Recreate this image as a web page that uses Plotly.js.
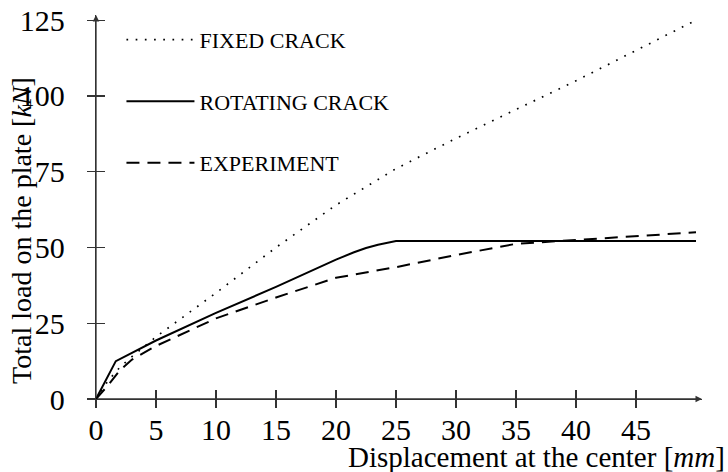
<!DOCTYPE html>
<html>
<head>
<meta charset="utf-8">
<script src="https://cdn.plot.ly/plotly-3.0.1.min.js"></script>
<style>html,body{margin:0;padding:0;background:#fff;}#chart{width:728px;height:472px;}</style>
</head>
<body>
<div id="chart"></div>
<script>
// Displacement at the center [mm] and total load [kN]
const fixedX = [0, 1, 2, 3, 5, 10, 15, 20, 25, 30, 35, 40, 45, 50];
const fixedY = [0, 6, 10.5, 14, 20.5, 35, 50, 64, 76, 86, 95.5, 105, 115, 125];

const rotX = [0, 1.65, 5, 10, 15, 20, 21.5, 22.5, 23.5, 24.3, 25, 30, 40, 50];
const rotY = [0, 12.5, 19.3, 28.4, 37, 46, 48.4, 49.8, 50.9, 51.6, 52.1, 52.1, 52.1, 52.1];

const expX = [0, 1, 2, 3, 5, 10, 15, 20, 25, 30, 35, 40, 45, 50];
const expY = [0, 4.5, 9.5, 13, 17.5, 26.6, 33.5, 40, 43.5, 47.5, 51.2, 52.5, 53.8, 55];

const seriesNames = ['FIXED CRACK', 'ROTATING CRACK', 'EXPERIMENT'];
const xTicks = [0, 5, 10, 15, 20, 25, 30, 35, 40, 45];
const yTicks = [0, 25, 50, 75, 100, 125];

const FONT = "'Liberation Serif', 'Times New Roman', serif";
const xRange = [0, 50.5];
const yRange = [0, 126.7];

const traces = [
  {x: fixedX, y: fixedY, name: seriesNames[0], mode: 'lines', legendgroup: 'a',
   line: {color: '#000', width: 1.7, dash: '1.7px,7.5px'}},
  {x: rotX, y: rotY, name: seriesNames[1], mode: 'lines', legendgroup: 'b',
   line: {color: '#000', width: 2}},
  {x: expX, y: expY, name: seriesNames[2], mode: 'lines', legendgroup: 'c',
   xaxis: 'x2', yaxis: 'y2',
   line: {color: '#000', width: 2, dash: '13px,8px'}}
];

const axColor = '#333';
const layout = {
  width: 728, height: 472,
  margin: {l: 96, r: 26, t: 15, b: 73},
  paper_bgcolor: '#fff', plot_bgcolor: '#fff',
  font: {family: FONT, color: '#000', size: 30},
  showlegend: true,
  legend: {x: 0.042, y: 0.99, xanchor: 'left', yanchor: 'top',
    font: {family: FONT, size: 22, color: '#000'},
    bgcolor: 'rgba(0,0,0,0)', tracegroupgap: 30, traceorder: 'grouped',
    itemwidth: 68},
  xaxis: {range: xRange, tickvals: xTicks, ticks: 'outside', ticklen: 8, tickwidth: 1.3,
    tickcolor: axColor, showline: true, linecolor: axColor, linewidth: 1.3,
    showgrid: false, zeroline: false, tickfont: {family: FONT, size: 30},
    ticklabelstandoff: -4, fixedrange: true},
  yaxis: {range: yRange, tickvals: yTicks, ticks: 'outside', ticklen: 8, tickwidth: 1.3,
    tickcolor: axColor, showline: true, linecolor: axColor, linewidth: 1.3,
    showgrid: false, zeroline: false, tickfont: {family: FONT, size: 30},
    ticklabelstandoff: 16, fixedrange: true},
  xaxis2: {range: xRange, tickvals: xTicks, ticks: 'inside', ticklen: 9, tickwidth: 1.3,
    tickcolor: axColor, showticklabels: false, overlaying: 'x', anchor: 'y2', side: 'bottom',
    showline: false, showgrid: false, zeroline: false},
  yaxis2: {range: yRange, tickvals: yTicks, ticks: 'inside', ticklen: 9, tickwidth: 1.3,
    tickcolor: axColor, showticklabels: false, overlaying: 'y', anchor: 'x2', side: 'left',
    showline: false, showgrid: false, zeroline: false},
  annotations: [
    {x: xRange[1], y: 0, ax: 0, ay: 0, xref: 'x', yref: 'y', axref: 'x', ayref: 'y',
     text: '', showarrow: true, arrowhead: 2, arrowsize: 1, arrowwidth: 1.3, arrowcolor: axColor},
    {x: 0, y: yRange[1], ax: 0, ay: 0, xref: 'x', yref: 'y', axref: 'x', ayref: 'y',
     text: '', showarrow: true, arrowhead: 2, arrowsize: 1, arrowwidth: 1.3, arrowcolor: axColor},
    {xref: 'paper', yref: 'paper', x: 1.042, y: -0.15, xanchor: 'right', yanchor: 'middle',
     text: 'Displacement at the center [<i>mm</i>]', showarrow: false,
     font: {family: FONT, size: 29, color: '#000'}},
    {xref: 'paper', yref: 'paper', x: -0.124, y: 0.44, xanchor: 'center', yanchor: 'middle',
     text: 'Total load on the plate [<i>kN</i>]', showarrow: false, textangle: -90,
     font: {family: FONT, size: 28, color: '#000'}}
  ]
};

Plotly.newPlot('chart', traces, layout, {staticPlot: true, displayModeBar: false});
</script>
</body>
</html>
